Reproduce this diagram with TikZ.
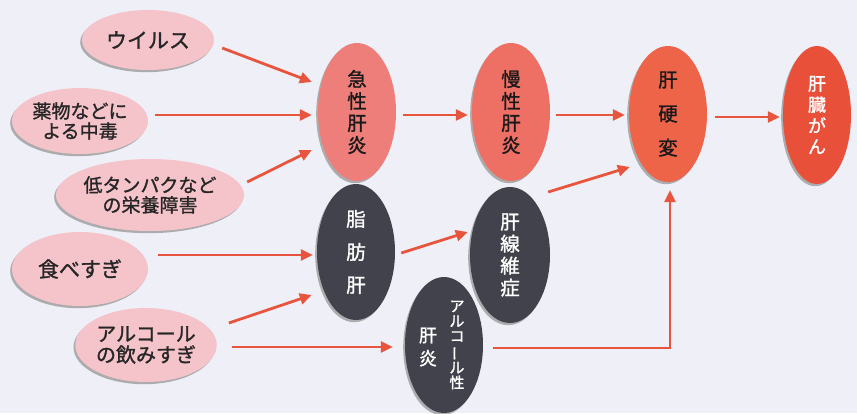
\documentclass[tikz,border=0pt]{standalone}
\usepackage{fontspec}
\usepackage{graphicx}
\usetikzlibrary{shapes.geometric,arrows.meta,shadows}
\newfontfamily\jp[RawFeature={embolden=1.2}]{Noto Sans CJK JP}
\definecolor{bgc}{HTML}{EFF0F7}
\definecolor{pinkc}{HTML}{F5C3CA}
\definecolor{acutec}{HTML}{EE7E79}
\definecolor{chronc}{HTML}{EE7065}
\definecolor{cirrc}{HTML}{EE6449}
\definecolor{cancc}{HTML}{E9503A}
\definecolor{darkc}{HTML}{42424D}
\definecolor{arrc}{HTML}{E8553F}
\newcommand{\vbar}{\rotatebox[origin=c]{90}{ー}}
\tikzset{
  ell/.style={ellipse, inner sep=0pt, align=center,
    drop shadow={shadow xshift=-1.8pt, shadow yshift=-2.2pt, fill=black!50, opacity=0.6}},
  cause/.style={ell, fill=pinkc, font=\jp\fontsize{19}{20}\selectfont, text=black!85},
  stage/.style={ell, font=\jp\fontsize{19.5}{22}\selectfont, text=black!90},
  darkst/.style={ell, fill=darkc, font=\jp\fontsize{19.5}{22}\selectfont, text=white},
  arr/.style={draw=arrc, line width=2.8pt, -{Triangle[length=12pt,width=11pt]}, arrc},
}
\begin{document}
\begin{tikzpicture}[x=1pt,y=-1pt]
\useasboundingbox[fill=bgc] (0,0) rectangle (857,413);
% causes
\node[cause, minimum width=132, minimum height=60, font=\jp\fontsize{21}{22}\selectfont] (v) at (148,40) {ウイルス};
\node[cause, minimum width=136, minimum height=66] (d) at (80,121) {薬物などに\\よる中毒};
\node[cause, minimum width=138, minimum height=72] (t) at (150,195) {低タンパクなど\\の栄養障害};
\node[cause, minimum width=136, minimum height=74, font=\jp\fontsize{21}{22}\selectfont] (f) at (80,269) {食べすぎ};
\node[cause, minimum width=136, minimum height=74, font=\jp\fontsize{20}{21}\selectfont] (a) at (146,345) {アルコール\\の飲みすぎ};
% stages
\node[stage, fill=acutec, minimum width=78, minimum height=138] (ac) at (357,112) {急\\性\\肝\\炎};
\node[stage, fill=chronc, minimum width=78, minimum height=138] (ch) at (511,112) {慢\\性\\肝\\炎};
\node[stage, fill=cirrc, minimum width=78, minimum height=136, font=\jp\fontsize{19.5}{34}\selectfont] (ci) at (668,114) {肝\\硬\\変};
\node[stage, fill=cancc, minimum width=68, minimum height=138, text=white, font=\jp\fontsize{18}{21}\selectfont] (ca) at (817,115) {肝\\臓\\が\\ん};
\node[darkst, minimum width=78, minimum height=136, font=\jp\fontsize{19.5}{33}\selectfont] (fl) at (356,252) {脂\\肪\\肝};
\node[darkst, minimum width=80, minimum height=136] (fi) at (510,255) {肝\\線\\維\\症};
\node[darkst, minimum width=78, minimum height=136] (al) at (444,345) {};
\node[text=white, font=\jp\fontsize{18}{23}\selectfont, align=center, inner sep=0pt] (alL) at ([shift={(-16,2)}]al.center) {肝\\炎};
\node[text=white, font=\jp\fontsize{15}{15}\selectfont, align=center, inner sep=0pt] (alR) at ([shift={(13,0)}]al.center) {ア\\ル\\コ\\\vbar\\ル\\性};
% arrows
\draw[arr] ([shift={(8,8)}]v.east) -- ([shift={(-6,-30)}]ac.west);
\draw[arr] ([shift={(7,-6)}]d.east) -- ([shift={(-6,3)}]ac.west);
\draw[arr] ([shift={(3,-13)}]t.east) -- ([shift={(-6,38)}]ac.west);
\draw[arr] ([shift={(10,-14)}]f.east) -- ([shift={(-4,3)}]fl.west);
\draw[arr] ([shift={(12,-22)}]a.east) -- ([shift={(-5,43)}]fl.west);
\draw[arr] ([shift={(15,2)}]a.east) -- ([shift={(-12,2)}]al.west);
\draw[arr] ([shift={(7,3)}]ac.east) -- ([shift={(-4,3)}]ch.west);
\draw[arr] ([shift={(6,1)}]fl.east) -- ([shift={(-2,-23)}]fi.west);
\draw[arr] ([shift={(6,3)}]ch.east) -- ([shift={(-4,1)}]ci.west);
\draw[arr] ([shift={(-2,-63)}]fi.east) -- ([shift={(1,53)}]ci.west);
\draw[arr] ([shift={(10,3)}]al.east) -| ([shift={(2,8)}]ci.south);
\draw[arr] ([shift={(8,3)}]ci.east) -- ([shift={(-3,2)}]ca.west);
\end{tikzpicture}
\end{document}
